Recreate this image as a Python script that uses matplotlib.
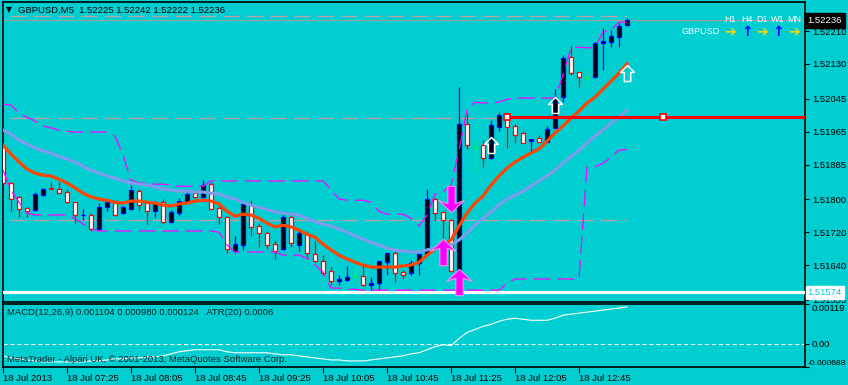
import matplotlib
matplotlib.use('Agg')
import matplotlib.pyplot as plt
import matplotlib.transforms as mtransforms
from matplotlib.path import Path
import numpy as np

BG = '#00ced1'
plt.rcParams['font.family'] = ['Liberation Sans', 'DejaVu Sans']
plt.rcParams['lines.scale_dashes'] = False

# GBPUSD M5 candles, 06:45 .. 13:15
opens = [1.51927, 1.51840, 1.51806, 1.51779, 1.51774, 1.51810, 1.51828, 1.51825, 1.51818, 1.51793,
         1.51762, 1.51762, 1.51728, 1.51781, 1.51791, 1.51767, 1.51776, 1.51820, 1.51791, 1.51771,
         1.51793, 1.51745, 1.51767, 1.51793, 1.51815, 1.51806, 1.51837, 1.51779, 1.51757, 1.51674,
         1.51689, 1.51786, 1.51735, 1.51718, 1.51691, 1.51679, 1.51757, 1.51689, 1.51715, 1.51667,
         1.51649, 1.51625, 1.51601, 1.51603, 1.51613, 1.51613, 1.51591, 1.51596, 1.51647, 1.51669,
         1.51623, 1.51620, 1.51645, 1.51667, 1.51801, 1.51769, 1.51750, 1.51625, 1.51983, 1.51927,
         1.51932, 1.51901, 1.51976, 1.52003, 1.51979, 1.51961, 1.51942, 1.51949, 1.51940, 1.51974,
         1.52049, 1.52147, 1.52110, 1.52096, 1.52098, 1.52181, 1.52183, 1.52195, 1.52225]
highs = [1.51932, 1.51842, 1.51808, 1.51781, 1.51818, 1.51828, 1.51842, 1.51842, 1.51825, 1.51793,
         1.51777, 1.51767, 1.51791, 1.51796, 1.51793, 1.51784, 1.51835, 1.51825, 1.51793, 1.51796,
         1.51801, 1.51774, 1.51803, 1.51820, 1.51820, 1.51847, 1.51842, 1.51784, 1.51759, 1.51711,
         1.51793, 1.51798, 1.51742, 1.51723, 1.51701, 1.51762, 1.51759, 1.51723, 1.51723, 1.51698,
         1.51664, 1.51635, 1.51615, 1.51637, 1.51635, 1.51640, 1.51610, 1.51649, 1.51669, 1.51674,
         1.51628, 1.51652, 1.51667, 1.51825, 1.51803, 1.51771, 1.51752, 1.52074, 1.52010, 1.51944,
         1.51944, 1.51993, 1.52013, 1.52013, 1.51983, 1.51966, 1.51947, 1.51957, 1.51979, 1.52069,
         1.52152, 1.52173, 1.52110, 1.52115, 1.52183, 1.52217, 1.52212, 1.52229, 1.52242]
lows = [1.51835, 1.51771, 1.51757, 1.51757, 1.51771, 1.51808, 1.51825, 1.51815, 1.51791, 1.51742,
        1.51750, 1.51723, 1.51725, 1.51771, 1.51759, 1.51764, 1.51774, 1.51774, 1.51740, 1.51757,
        1.51742, 1.51742, 1.51762, 1.51791, 1.51803, 1.51803, 1.51776, 1.51740, 1.51669, 1.51669,
        1.51677, 1.51711, 1.51684, 1.51679, 1.51655, 1.51677, 1.51684, 1.51674, 1.51655, 1.51647,
        1.51615, 1.51591, 1.51591, 1.51601, 1.51596, 1.51589, 1.51579, 1.51579, 1.51615, 1.51598,
        1.51606, 1.51615, 1.51615, 1.51664, 1.51747, 1.51652, 1.51623, 1.51603, 1.51922, 1.51864,
        1.51879, 1.51898, 1.51966, 1.51925, 1.51937, 1.51937, 1.51915, 1.51940, 1.51940, 1.51974,
        1.52037, 1.52103, 1.52074, 1.52076, 1.52096, 1.52115, 1.52171, 1.52171, 1.52222]
closes = [1.51840, 1.51801, 1.51776, 1.51771, 1.51813, 1.51825, 1.51825, 1.51815, 1.51793, 1.51762,
          1.51763, 1.51728, 1.51781, 1.51793, 1.51762, 1.51781, 1.51823, 1.51786, 1.51771, 1.51791,
          1.51745, 1.51769, 1.51796, 1.51813, 1.51806, 1.51835, 1.51776, 1.51757, 1.51679, 1.51691,
          1.51789, 1.51733, 1.51718, 1.51689, 1.51674, 1.51757, 1.51693, 1.51718, 1.51669, 1.51649,
          1.51620, 1.51601, 1.51606, 1.51610, 1.51613, 1.51591, 1.51596, 1.51649, 1.51669, 1.51620,
          1.51615, 1.51645, 1.51667, 1.51801, 1.51767, 1.51750, 1.51625, 1.51983, 1.51932, 1.51927,
          1.51901, 1.51981, 1.52005, 1.51976, 1.51957, 1.51937, 1.51947, 1.51940, 1.51971, 1.52047,
          1.52144, 1.52108, 1.52098, 1.52096, 1.52181, 1.52186, 1.52198, 1.52222, 1.52236]

ma_fast = [1.51932, 1.51910, 1.51891, 1.51874, 1.51864, 1.51859, 1.51857, 1.51849, 1.51840, 1.51828,
           1.51815, 1.51806, 1.51801, 1.51798, 1.51793, 1.51791, 1.51796, 1.51796, 1.51793, 1.51791,
           1.51786, 1.51784, 1.51789, 1.51791, 1.51796, 1.51798, 1.51796, 1.51789, 1.51771, 1.51759,
           1.51764, 1.51762, 1.51754, 1.51742, 1.51733, 1.51737, 1.51733, 1.51725, 1.51715, 1.51708,
           1.51691, 1.51677, 1.51664, 1.51655, 1.51647, 1.51640, 1.51635, 1.51635, 1.51635, 1.51635,
           1.51638, 1.51640, 1.51647, 1.51664, 1.51679, 1.51689, 1.51701, 1.51735, 1.51767, 1.51791,
           1.51808, 1.51835, 1.51857, 1.51876, 1.51891, 1.51903, 1.51913, 1.51923, 1.51942, 1.51962,
           1.51979, 1.51998, 1.52015, 1.52035, 1.52049, 1.52069, 1.52088, 1.52108, 1.52130]
ma_slow = [1.51969, 1.51959, 1.51944, 1.51935, 1.51925, 1.51918, 1.51913, 1.51905, 1.51898, 1.51891,
           1.51881, 1.51871, 1.51864, 1.51857, 1.51852, 1.51845, 1.51840, 1.51837, 1.51835, 1.51830,
           1.51825, 1.51823, 1.51820, 1.51820, 1.51818, 1.51818, 1.51815, 1.51813, 1.51806, 1.51801,
           1.51793, 1.51786, 1.51781, 1.51776, 1.51769, 1.51767, 1.51764, 1.51762, 1.51754, 1.51745,
           1.51740, 1.51735, 1.51728, 1.51720, 1.51711, 1.51703, 1.51696, 1.51689, 1.51681, 1.51677,
           1.51674, 1.51672, 1.51672, 1.51677, 1.51681, 1.51686, 1.51689, 1.51701, 1.51718, 1.51737,
           1.51754, 1.51769, 1.51786, 1.51801, 1.51810, 1.51820, 1.51832, 1.51845, 1.51857, 1.51871,
           1.51889, 1.51905, 1.51920, 1.51937, 1.51954, 1.51969, 1.51986, 1.52000, 1.52018]
band_upper = [1.52032, 1.52030, 1.52010, 1.52000, 1.51991, 1.51979, 1.51974, 1.51969, 1.51966, 1.51964,
              1.51964, 1.51964, 1.51964, 1.51964, 1.51954, 1.51908, 1.51847, 1.51840, 1.51840, 1.51837,
              1.51837, 1.51835, 1.51832, 1.51832, 1.51832, 1.51832, 1.51845, 1.51845, 1.51845, 1.51845,
              1.51845, 1.51845, 1.51845, 1.51845, 1.51845, 1.51845, 1.51845, 1.51845, 1.51845, 1.51845,
              1.51845, 1.51823, 1.51801, 1.51798, 1.51798, 1.51798, 1.51793, 1.51771, 1.51764, 1.51764,
              1.51764, 1.51754, 1.51735, 1.51762, 1.51813, 1.51818, 1.51835, 1.51920, 1.52018, 1.52037,
              1.52035, 1.52035, 1.52037, 1.52044, 1.52047, 1.52047, 1.52047, 1.52047, 1.52047, 1.52047,
              1.52103, 1.52169, 1.52171, 1.52169, 1.52171, 1.52208, 1.52212, 1.52232, 1.52232]
band_lower = [1.51871, 1.51823, 1.51793, 1.51767, 1.51762, 1.51762, 1.51762, 1.51762, 1.51762, 1.51754,
              1.51740, 1.51728, 1.51723, 1.51723, 1.51723, 1.51723, 1.51723, 1.51723, 1.51723, 1.51723,
              1.51723, 1.51723, 1.51723, 1.51723, 1.51723, 1.51723, 1.51723, 1.51720, 1.51689, 1.51672,
              1.51672, 1.51672, 1.51672, 1.51672, 1.51672, 1.51664, 1.51664, 1.51664, 1.51657, 1.51640,
              1.51623, 1.51584, 1.51584, 1.51581, 1.51581, 1.51579, 1.51579, 1.51579, 1.51579, 1.51579,
              1.51579, 1.51579, 1.51579, 1.51579, 1.51579, 1.51579, 1.51579, 1.51579, 1.51579, 1.51579,
              1.51579, 1.51579, 1.51579, 1.51596, 1.51606, 1.51606, 1.51606, 1.51606, 1.51606, 1.51606,
              1.51606, 1.51606, 1.51606, 1.51879, 1.51879, 1.51888, 1.51903, 1.51920, 1.51922]

macd = [-0.000355, -0.000416, -0.000446, -0.000477, -0.000507, -0.000537, -0.000537, -0.000537, -0.000537, -0.000537,
        -0.000537, -0.000507, -0.000507, -0.000477, -0.000446, -0.000446, -0.000416, -0.000416, -0.000386, -0.000386,
        -0.000355, -0.000295, -0.000234, -0.000204, -0.000174, -0.000174, -0.000174, -0.000174, -0.000234, -0.000264,
        -0.000264, -0.000264, -0.000264, -0.000264, -0.000295, -0.000325, -0.000325, -0.000355, -0.000386, -0.000416,
        -0.000446, -0.000477, -0.000477, -0.000507, -0.000507, -0.000507, -0.000477, -0.000446, -0.000416, -0.000386,
        -0.000355, -0.000295, -0.000264, -0.000174, -0.000083, -0.000022, -0.000052, 0.000160, 0.000342, 0.000433,
        0.000523, 0.000584, 0.000675, 0.000736, 0.000766, 0.000736, 0.000705, 0.000705, 0.000705, 0.000766,
        0.000857, 0.000887, 0.000917, 0.000948, 0.000978, 0.001008, 0.001039, 0.001069, 0.001104]

# horizontal levels
pivot_levels = [1.52247, 1.51998, 1.51750]
hline_red = 1.52000
hline_red_anchors = [63, 82.5]
hline_white = 1.51574

# signal arrows (bar index, price)
buy_bars, buy_prices = [55, 57], [1.51672, 1.51598]
sell_bars, sell_prices = [56], [1.51801]
hollow_bars, hollow_prices = [61, 69, 78], [1.51933, 1.52030, 1.52108]

price_ticks = [1.52210, 1.52130, 1.52045, 1.51965, 1.51885, 1.51800, 1.51720, 1.51640, 1.51555]
macd_ticks = [0.00119, 0.0, -0.000688]
time_labels = ['18 Jul 2013', '18 Jul 07:25', '18 Jul 08:05', '18 Jul 08:45', '18 Jul 09:25',
               '18 Jul 10:05', '18 Jul 10:45', '18 Jul 11:25', '18 Jul 12:05', '18 Jul 12:45']

o, h, l, c = (np.array(a) for a in (opens, highs, lows, closes))
n = len(o)
bars = np.arange(n)

W, H = 848, 385
fig = plt.figure(figsize=(W / 100, H / 100), dpi=100, facecolor=BG)
ax = fig.add_axes([3 / W, 83 / H, 802 / W, 300 / H], facecolor=BG)
ax2 = fig.add_axes([3 / W, 18 / H, 802 / W, 63 / H], facecolor=BG)

def px(x, y):
    return x / W, 1 - y / H

# candles
up = c > o
dn = c < o
eq = c == o
wick_col = np.where(up, '#0000ff', np.where(dn, '#ff0000', '#00ff00'))
ax.vlines(bars, l, h, colors=wick_col, lw=0.9, zorder=2)
ax.bar(bars[up], (c - o)[up], bottom=o[up], width=0.6, color='black',
       edgecolor='#0000ff', lw=0.9, zorder=3)
ax.bar(bars[dn], (o - c)[dn], bottom=c[dn], width=0.6, color='white',
       edgecolor='#ff0000', lw=0.9, zorder=3)
ax.hlines(o[eq], bars[eq] - 0.3, bars[eq] + 0.3, colors='#00ff00', lw=0.9, zorder=3)

# levels
ax.hlines(pivot_levels, 0.9, bars[-1], colors='#b8a4a4', lw=1,
          linestyles=[(0, (12, 5))], zorder=1)
ax.axhline(c[-1], color='#a0a0a0', lw=0.8, zorder=1)
ax.axhline(hline_white, color='white', lw=2.3, zorder=4)

# indicators
ax.plot(bars, band_upper, color='#ff00ff', lw=0.9, ls=(0, (12, 5)), zorder=4)
ax.plot(bars, band_lower, color='#ff00ff', lw=0.9, ls=(0, (12, 5)), zorder=4)
ax.plot(bars, ma_slow, color='#7d9cec', lw=2.3, zorder=5)
ax.plot(bars, ma_fast, color='#ff4500', lw=2.3, zorder=6)

ax.hlines(hline_red, hline_red_anchors[0], 101, colors='#ff0000', lw=2.2, zorder=6)
ax.plot(hline_red_anchors, [hline_red] * 2, 's', mfc='white', mec='#ff0000',
        ms=4.5, mew=1.2, zorder=7)

# arrows
up_arrow = Path([(0, 12.5), (12, 1), (3.5, 4), (3.5, -12.5), (-3.5, -12.5), (-3.5, 4), (-12, 1), (0, 12.5)], closed=True)
dn_arrow = Path([(0, -12.5), (12, -1), (3.5, -4), (3.5, 12.5), (-3.5, 12.5), (-3.5, -4), (-12, -1), (0, -12.5)], closed=True)
hollow = Path([(0, 7.5), (6.5, 1), (3, 1), (3, -7.5), (-3, -7.5), (-3, 1), (-6.5, 1), (0, 7.5)], closed=True)
ax.plot(buy_bars, buy_prices, ls='none', marker=up_arrow, ms=19, mfc='#ff00ff',
        mec='#f090f0', mew=0.8, zorder=8)
ax.plot(sell_bars, sell_prices, ls='none', marker=dn_arrow, ms=19, mfc='#ff00ff',
        mec='#f090f0', mew=0.8, zorder=8)
ax.plot(hollow_bars, hollow_prices, ls='none', marker=hollow, ms=11.5, mfc='none',
        mec='white', mew=1.1, zorder=8)

ax.set_xlim(0, 100.25)
ax.set_ylim(1.51550, 1.52281)
ax.set_xticks([])
ax.yaxis.tick_right()
ax.set_yticks(price_ticks)
ax.set_yticklabels(['%.5f' % v for v in price_ticks])
ax.tick_params(axis='y', direction='out', length=3, width=0.8, pad=2,
               labelsize=6.8, colors='black')

trans = mtransforms.blended_transform_factory(ax.transAxes, ax.transData)
ax.text(1.003, c[-1], '%.5f' % c[-1], transform=trans, ha='left', va='center',
        color='white', fontsize=6.8, clip_on=False, zorder=10,
        bbox=dict(boxstyle='square,pad=0.3', fc='black', ec='black'))
ax.text(1.003, hline_white, '%.5f' % hline_white, transform=trans, ha='left', va='center',
        color=BG, fontsize=6.8, clip_on=False, zorder=10,
        bbox=dict(boxstyle='square,pad=0.2', fc='white', ec='white'))

# MACD panel
ax2.plot(bars, macd, color='white', lw=0.8)
ax2.axhline(0, color='white', lw=0.8, ls=(0, (3, 2)))
ax2.set_xlim(0, 100.25)
ax2.set_ylim(macd_ticks[-1], macd_ticks[0])
ax2.yaxis.tick_right()
ax2.set_yticks(macd_ticks)
ax2.set_yticklabels(['0.00119', '0.00', ''])
ax2.get_yticklabels()[0].set_va('top')
ax2.tick_params(axis='y', direction='out', length=3, width=0.8, pad=2,
                labelsize=6.8, colors='black')
# bottom scale value, squeezed to fit the right margin
trans2 = mtransforms.blended_transform_factory(fig.transFigure, ax2.transData)
ax2.text(1.0 - 1.5 / W, macd_ticks[-1], '-0.000688', transform=trans2, ha='right',
         va='bottom', fontsize=6.1, color='black', clip_on=False)
ax2.set_xticks(bars[::8][:len(time_labels)])
ax2.set_xticklabels(time_labels, ha='left')
ax2.tick_params(axis='x', direction='out', length=4, width=0.8, pad=1,
                labelsize=6.8, colors='black')
ax2.text(0.005, 0.86, 'MACD(12,26,9) 0.001104 0.000980 0.000124   ATR(20) 0.0006',
         transform=ax2.transAxes, fontsize=6.8, color='#102828', va='center')
ax2.text(0.005, 0.12, 'MetaTrader - Alpari UK, \u00a9 2001-2013, MetaQuotes Software Corp.',
         transform=ax2.transAxes, fontsize=6.8, color='#102828', va='center')

for a in (ax, ax2):
    for s in a.spines.values():
        s.set_color('black')
        s.set_linewidth(1.2)

# header
fig.text(*px(6, 10), '\u25bc', fontsize=5.5, color='black', va='center',
         family=['DejaVu Sans'])
fig.text(*px(18, 10), 'GBPUSD,M5  1.52225 1.52242 1.52222 1.52236',
         fontsize=6.8, color='black', va='center')

# trend panel
for lab, x in zip(['H1', 'H4', 'D1', 'W1', 'MN'], [730, 747, 762, 778, 794]):
    fig.text(*px(x, 20), lab, fontsize=6.5, color='white', ha='center', va='center')
fig.text(*px(720, 32), 'GBPUSD', fontsize=6.5, color='white', ha='right', va='center')
for sym, col, x in zip(['\u2794', '\u2191', '\u2794', '\u2191', '\u2794'],
                       ['#ffd700', '#0000ff', '#ffd700', '#0000ff', '#ffd700'],
                       [730, 747, 762, 778, 794]):
    fig.text(*px(x, 32), sym, fontsize=10, color=col, ha='center', va='center',
             fontweight='bold', family=['DejaVu Sans'])

fig.savefig('out.png', dpi=100, facecolor=BG)
